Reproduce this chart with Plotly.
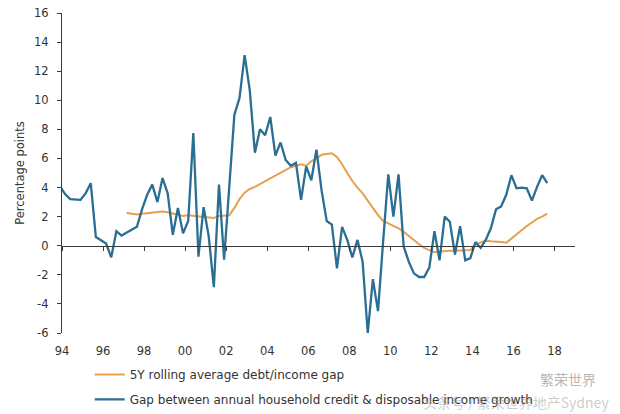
import plotly.graph_objects as go

# Quarterly observations starting early 1994
start_year = 1993.9
blue_vals = [4.1, 3.55, 3.2, 3.15, 3.15, 3.6, 4.3, 0.6, 0.35, 0.15,
             -0.8, 1.0, 0.7, 0.9, 1.15, 1.3, 2.5, 3.5, 4.2, 3.0,
             4.65, 3.6, 0.75, 2.6, 0.85, 1.7, 7.75, -0.75, 2.65, 0.65,
             -2.85, 4.2, -0.95, 4.0, 9.0, 10.15, 13.1, 10.7, 6.4, 8.0,
             7.6, 8.85, 6.2, 7.1, 5.9, 5.5, 5.7, 3.15, 5.45, 4.5,
             6.6, 3.8, 1.7, 1.45, -1.55, 1.3, 0.4, -0.8, 0.4, -1.1,
             -6.0, -2.3, -4.5, 0.3, 4.9, 2.0, 4.9, -0.05, -1.1, -1.9,
             -2.15, -2.15, -1.5, 1.0, -1.0, 2.0, 1.65, -0.6, 1.35, -1.0,
             -0.85, 0.25, -0.15, 0.4, 1.2, 2.5, 2.7, 3.5, 4.85, 3.95,
             4.0, 3.95, 3.1, 4.05, 4.85, 4.3]

orange_start_index = 13
orange_vals = [2.25, 2.2, 2.15, 2.2, 2.25, 2.3, 2.35, 2.35, 2.3, 2.2,
               2.1, 2.05, 2.1, 2.05, 2.0, 2.0, 1.95, 1.9, 2.05, 2.05,
               2.1, 2.6, 3.2, 3.65, 3.9, 4.05, 4.25, 4.45, 4.65, 4.85,
               5.0, 5.2, 5.4, 5.5, 5.6, 5.5, 5.8, 6.0, 6.25, 6.3,
               6.35, 6.1, 5.6, 5.0, 4.45, 4.0, 3.6, 3.1, 2.6, 2.1,
               1.7, 1.55, 1.4, 1.2, 0.95, 0.7, 0.4, 0.1, -0.15, -0.3,
               -0.45, -0.4, -0.35, -0.35, -0.35, -0.35, -0.35, -0.3, 0.1, 0.25,
               0.35, 0.3, 0.3, 0.25, 0.2, 0.5, 0.8, 1.1, 1.35, 1.6,
               1.85, 2.0, 2.2]

tick_years = [1994, 1996, 1998, 2000, 2002, 2004, 2006, 2008, 2010, 2012, 2014, 2016, 2018]
tick_labels = ["94", "96", "98", "00", "02", "04", "06", "08", "10", "12", "14", "16", "18"]
y_ticks = [16, 14, 12, 10, 8, 6, 4, 2, 0, -2, -4, -6]
y_tick_labels = ["16", "14", "12", "10", "8", "6", "4", "2", "0", "-2", "-4", "-6"]

name_orange = "5Y rolling average debt/income gap"
name_blue = "Gap between annual household credit & disposable income growth"

blue_x = [start_year + 0.25 * i for i in range(len(blue_vals))]
orange_x = [start_year + 0.25 * (orange_start_index + i) for i in range(len(orange_vals))]

BLUE = "#2a6e93"
ORANGE = "#e6a04e"
TXT = "#333333"
AX = "#3a3a3a"
FONT = "DejaVu Sans"

fig = go.Figure()
fig.add_trace(go.Scatter(x=orange_x, y=orange_vals, mode="lines", name=name_orange,
                         line=dict(color=ORANGE, width=2), legendgroup="a"))
fig.add_trace(go.Scatter(x=blue_x, y=blue_vals, mode="lines", name=name_blue,
                         line=dict(color=BLUE, width=2.3), legendgroup="b"))
# helper trace for the zero-line axis
fig.add_trace(go.Scatter(x=[tick_years[0], tick_years[-1]], y=[0, 0], mode="lines",
                         line=dict(width=0), xaxis="x2", showlegend=False, hoverinfo="skip"))

fig.update_layout(
    width=620, height=414,
    margin=dict(l=62, r=45, t=13, b=81, autoexpand=False),
    paper_bgcolor="white", plot_bgcolor="white",
    font=dict(family=FONT, size=11, color=TXT),
    xaxis=dict(range=[1994, 2019], tickvals=tick_years, ticktext=tick_labels,
               showline=False, showgrid=False, zeroline=False, ticks="",
               ticklabelstandoff=9, tickfont=dict(size=11.5, color=TXT)),
    xaxis2=dict(range=[1994, 2019], overlaying="x", anchor="free", position=6 / 22,
                tickvals=tick_years, showticklabels=False, showline=True,
                linecolor=AX, linewidth=1.3, ticks="outside", ticklen=4,
                tickcolor=AX, tickwidth=1.2, showgrid=False, zeroline=False),
    yaxis=dict(range=[-6, 16], tickvals=y_ticks, ticktext=y_tick_labels,
               showgrid=False, zeroline=False,
               showline=True, linecolor=AX, linewidth=1.3, ticks="outside",
               ticklen=4, tickcolor=AX, tickwidth=1.2, ticklabelstandoff=6,
               tickfont=dict(size=11.5, color=TXT),
               title=dict(text="Percentage points", font=dict(size=11.5, color=TXT), standoff=6)),
    legend=dict(x=0.054, y=-0.084, xanchor="left", yanchor="top", orientation="v",
                font=dict(size=12, color=TXT), tracegroupgap=6,
                bgcolor="rgba(0,0,0,0)"),
    showlegend=True,
)

fig.add_annotation(text="繁荣世界", x=1.045, y=-0.145, xref="paper", yref="paper",
                   xanchor="right", yanchor="middle", showarrow=False,
                   font=dict(family="Noto Sans CJK SC", size=14, color="rgba(120,120,120,0.55)"))
fig.add_annotation(text="头条号 / 繁荣世界地产Sydney", x=1.07, y=-0.215, xref="paper", yref="paper",
                   xanchor="right", yanchor="middle", showarrow=False,
                   font=dict(family="Noto Sans CJK SC", size=14, color="rgba(140,140,140,0.45)"))

fig.write_html("out.html", config={"displayModeBar": False},
               post_script="document.body.style.margin='0';document.body.style.overflow='hidden';")
